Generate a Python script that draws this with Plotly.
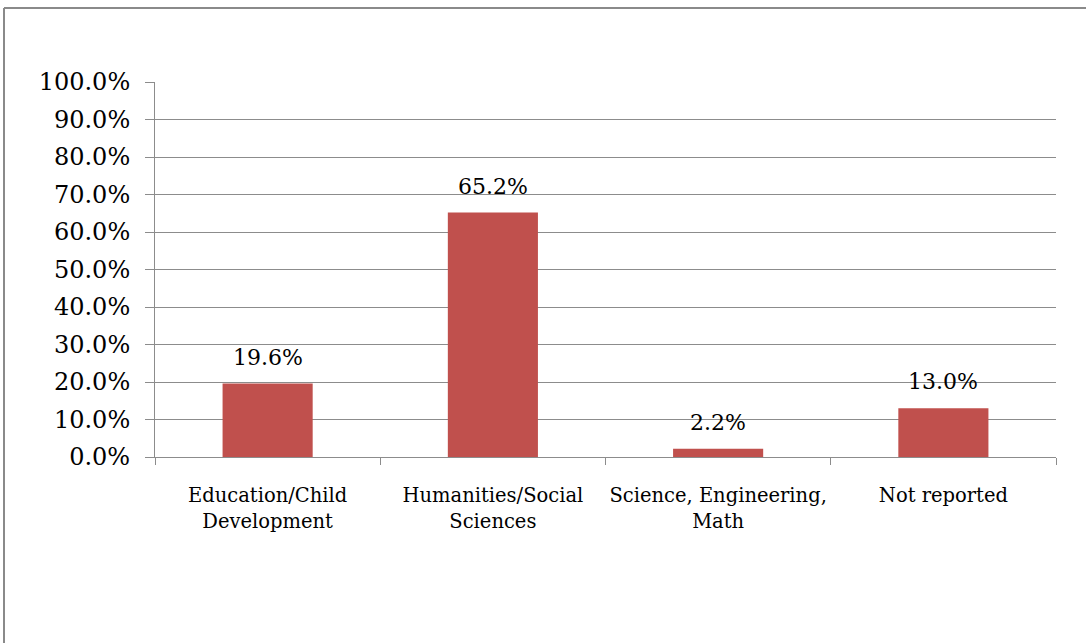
import plotly.graph_objects as go

categories = ["Education/Child<br>Development", "Humanities/Social<br>Sciences",
              "Science, Engineering,<br>Math", "Not reported"]
values = [19.6, 65.2, 2.2, 13.0]
y_ticks = [0, 10, 20, 30, 40, 50, 60, 70, 80, 90, 100]

BAR = "#C0504D"
GRID = "#8C8C8C"
FONT = "DejaVu Serif"

W, H = 1086, 643
L, R, T, B = 155, 30, 82, 186
pw, ph = W - L - R, H - T - B

fig = go.Figure(go.Bar(x=categories, y=values, marker=dict(color=BAR, line=dict(width=0)),
                       width=0.4, hoverinfo="skip"))

for c, v in zip(categories, values):
    fig.add_annotation(x=c, y=v, text=f"{v:.1f}%", showarrow=False, yanchor="bottom",
                       yshift=12, font=dict(family=FONT, size=22, color="#000000"))

# outer frame (top and left edges)
def px(x):
    return (x - L) / pw

def py(y):
    return (H - B - y) / ph

fig.add_shape(type="line", xref="paper", yref="paper", x0=px(4), x1=px(1095), y0=py(8), y1=py(8),
              line=dict(color="#8A8A8A", width=2))
fig.add_shape(type="line", xref="paper", yref="paper", x0=px(4), x1=px(4), y0=py(8), y1=py(650),
              line=dict(color="#8A8A8A", width=2))

fig.update_layout(
    width=W, height=H,
    margin=dict(l=L, r=R, t=T, b=B),
    paper_bgcolor="white", plot_bgcolor="white",
    showlegend=False,
    font=dict(family=FONT, size=19, color="#000000"),
    bargap=0.6,
)
fig.update_xaxes(type="category", showline=True, linecolor=GRID, linewidth=1,
                 ticks="outside", tickson="boundaries", ticklen=7, tickcolor=GRID,
                 showgrid=False, tickfont=dict(family=FONT, size=19.5), tickangle=0,
                 automargin=False, ticklabelstandoff=21)
fig.update_yaxes(range=[0, 100], tickvals=y_ticks, ticktext=[f"{t:.1f}%" for t in y_ticks],
                 showline=True, linecolor=GRID, linewidth=1, ticks="outside", ticklen=9,
                 tickcolor=GRID, showgrid=True, gridcolor=GRID, gridwidth=1, automargin=False,
                 zeroline=False, tickfont=dict(family=FONT, size=24), ticklabelstandoff=10)

fig.write_html("out.html")
